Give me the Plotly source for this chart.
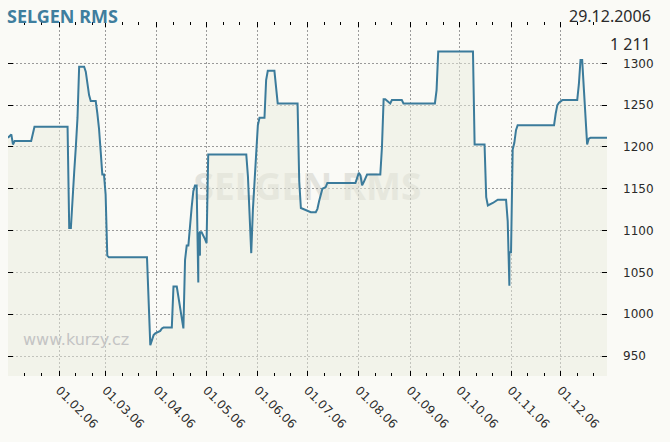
import plotly.graph_objects as go

# ---- data ----
dates = [
    "2006-01-01", "2006-01-03", "2006-01-04", "2006-01-05", "2006-01-15", "2006-01-17",
    "2006-02-06", "2006-02-07", "2006-02-08", "2006-02-09", "2006-02-10", "2006-02-11",
    "2006-02-12", "2006-02-13", "2006-02-16", "2006-02-17", "2006-02-18", "2006-02-19",
    "2006-02-20", "2006-02-23", "2006-02-24", "2006-02-25", "2006-02-26", "2006-02-27",
    "2006-02-28", "2006-03-01", "2006-03-02", "2006-03-03", "2006-03-26", "2006-03-27",
    "2006-03-28", "2006-03-29", "2006-03-30", "2006-03-31", "2006-04-01", "2006-04-03",
    "2006-04-04", "2006-04-05", "2006-04-10", "2006-04-11", "2006-04-13", "2006-04-14",
    "2006-04-15", "2006-04-16", "2006-04-17", "2006-04-18", "2006-04-19", "2006-04-20",
    "2006-04-21", "2006-04-22", "2006-04-23", "2006-04-24", "2006-04-25", "2006-04-26",
    "2006-04-26", "2006-04-27", "2006-04-27", "2006-04-28", "2006-04-30", "2006-05-01",
    "2006-05-02", "2006-05-25", "2006-05-26", "2006-05-27", "2006-05-28", "2006-05-29",
    "2006-05-30", "2006-05-31", "2006-06-01", "2006-06-02", "2006-06-05", "2006-06-06",
    "2006-06-07", "2006-06-11", "2006-06-12", "2006-06-13", "2006-06-25", "2006-06-26",
    "2006-06-27", "2006-07-01", "2006-07-03", "2006-07-06", "2006-07-07", "2006-07-08",
    "2006-07-09", "2006-07-10", "2006-07-12", "2006-07-13", "2006-07-30", "2006-07-31",
    "2006-08-01", "2006-08-02", "2006-08-03", "2006-08-04", "2006-08-05", "2006-08-06",
    "2006-08-14", "2006-08-15", "2006-08-16", "2006-08-17", "2006-08-20", "2006-08-21",
    "2006-08-27", "2006-08-28", "2006-09-16", "2006-09-17", "2006-09-18", "2006-10-09",
    "2006-10-10", "2006-10-16", "2006-10-17", "2006-10-18", "2006-10-21", "2006-10-23",
    "2006-10-24", "2006-10-29", "2006-10-30", "2006-10-31", "2006-10-31", "2006-11-01",
    "2006-11-02", "2006-11-03", "2006-11-04", "2006-11-05", "2006-11-27", "2006-11-28",
    "2006-11-29", "2006-11-30", "2006-12-02", "2006-12-11", "2006-12-12", "2006-12-13",
    "2006-12-14", "2006-12-15", "2006-12-16", "2006-12-17", "2006-12-18", "2006-12-19",
    "2006-12-29",
]
prices = [
    1211, 1215, 1203, 1207, 1207, 1224,
    1224, 1103, 1103, 1131, 1170, 1200,
    1235, 1296, 1296, 1290, 1274, 1262,
    1255, 1255, 1240, 1222, 1195, 1167,
    1167, 1143, 1070, 1068, 1068, 1010,
    963, 969, 975, 977, 978, 980,
    983, 984, 984, 1033, 1033, 1020,
    1010, 996, 983, 1065, 1082, 1082,
    1110, 1128, 1147, 1154, 1154, 1038,
    1098, 1070, 1098, 1098, 1090, 1085,
    1191, 1191, 1165, 1125, 1073, 1125,
    1157, 1200, 1226, 1235, 1235, 1280,
    1291, 1291, 1270, 1252, 1252, 1159,
    1127, 1124, 1122, 1122, 1126, 1135,
    1142, 1150, 1152, 1157, 1157, 1163,
    1169, 1166, 1154, 1158, 1162, 1167,
    1167, 1200, 1257, 1257, 1252, 1256,
    1256, 1252, 1252, 1268, 1314, 1314,
    1203, 1203, 1140, 1130, 1133, 1135,
    1137, 1137, 1111, 1034, 1074, 1074,
    1197, 1205, 1220, 1226, 1226, 1240,
    1250, 1253, 1256, 1256, 1275, 1304,
    1304, 1270, 1232, 1203, 1210, 1211,
    1211,
]

title_text = "SELGEN RMS"
last_date_text = "29.12.2006"
last_value_text = "1 211"
watermark_text = "SELGEN RMS"
site_text = "www.kurzy.cz"

major_ticks = ["2006-02-01", "2006-03-01", "2006-04-01", "2006-05-01", "2006-06-01",
               "2006-07-01", "2006-08-01", "2006-09-01", "2006-10-01", "2006-11-01",
               "2006-12-01"]
major_labels = ["01.02.06", "01.03.06", "01.04.06", "01.05.06", "01.06.06", "01.07.06",
                "01.08.06", "01.09.06", "01.10.06", "01.11.06", "01.12.06"]
minor_ticks = ["2006-01-11", "2006-01-21", "2006-02-11", "2006-02-21", "2006-03-11",
               "2006-03-21", "2006-04-11", "2006-04-21", "2006-05-11", "2006-05-21",
               "2006-06-11", "2006-06-21", "2006-07-11", "2006-07-21", "2006-08-11",
               "2006-08-21", "2006-09-11", "2006-09-21", "2006-10-11", "2006-10-21",
               "2006-11-11", "2006-11-21", "2006-12-11", "2006-12-21"]
y_ticks = [950, 1000, 1050, 1100, 1150, 1200, 1250, 1300]

# ---- styles ----
BG = "#FAFAF6"
FILL = "rgba(234,236,222,0.5)"   # gives ~#F2F3EA over the background
LINE = "#3B7B9B"
GRID = "#9A9A9A"
TXT = "#2A2A2A"
TICK = "#000000"

fig = go.Figure()
fig.add_trace(go.Scatter(
    x=dates, y=prices, mode="lines",
    line=dict(color=LINE, width=2),
    fill="tozeroy", fillcolor=FILL,
    hoverinfo="skip", showlegend=False,
))

fig.update_layout(
    width=670, height=442,
    margin=dict(l=8, r=63, t=22, b=66),
    paper_bgcolor=BG, plot_bgcolor=BG,
    showlegend=False,
    xaxis=dict(
        type="date",
        range=["2006-01-01", "2006-12-29"],
        tickmode="array", tickvals=major_ticks, ticktext=major_labels,
        tickangle=45,
        ticks="inside", ticklen=5, tickcolor=TICK, tickwidth=1,
        mirror="ticks", automargin=False,
        showgrid=True, gridcolor=GRID, griddash="2px,2px", gridwidth=1,
        showline=False, zeroline=False,
        ticklabelstandoff=4,
        tickfont=dict(family="DejaVu Sans", size=12, color=TXT),
        minor=dict(tickmode="array", tickvals=minor_ticks, ticks="inside",
                   ticklen=3, tickcolor=TICK, tickwidth=1, showgrid=False),
    ),
    yaxis=dict(
        range=[926.1, 1349.4],
        side="right",
        tickmode="array", tickvals=y_ticks,
        ticks="inside", ticklen=5, tickcolor=TICK, tickwidth=1,
        mirror="ticks", automargin=False,
        showgrid=True, gridcolor=GRID, griddash="2px,2px", gridwidth=1,
        showline=False, zeroline=False,
        ticklabelstandoff=15,
        tickfont=dict(family="DejaVu Sans", size=12, color=TXT),
    ),
    shapes=[
        dict(type="rect", xref="paper", yref="paper", x0=0.3, x1=0.7, y0=0.474, y1=0.584,
             line=dict(width=0), fillcolor="rgba(0,0,0,0)", layer="below",
             label=dict(text=watermark_text, textposition="middle center",
                        font=dict(family="Noto Sans", size=37, color="#E3E3DD",
                                  weight="bold"))),
    ],
    annotations=[
        dict(text=site_text, xref="paper", yref="paper", x=0.0212, y=0.1045,
             xanchor="left", yanchor="middle", showarrow=False,
             font=dict(family="DejaVu Sans", size=16, color="#C4C4C4")),
        dict(text=title_text, xref="paper", yref="paper", x=0.0, y=1.017,
             xanchor="left", yanchor="middle", showarrow=False, xshift=-3,
             font=dict(family="Noto Sans", size=18, color="#3F7E9E", weight="bold")),
        dict(text=last_date_text, xref="paper", yref="paper", x=1.077, y=1.016,
             xanchor="right", yanchor="middle", showarrow=False,
             font=dict(family="Noto Sans", size=16, color=TXT)),
        dict(text=last_value_text, xref="paper", yref="paper", x=1.077, y=0.939,
             xanchor="right", yanchor="middle", showarrow=False,
             font=dict(family="Noto Sans", size=16, color=TXT)),
    ],
)

fig.write_html(
    "out.html",
    config={"displayModeBar": False, "staticPlot": True},
    post_script="document.body.style.margin='0';document.body.style.background='%s';" % BG,
)
